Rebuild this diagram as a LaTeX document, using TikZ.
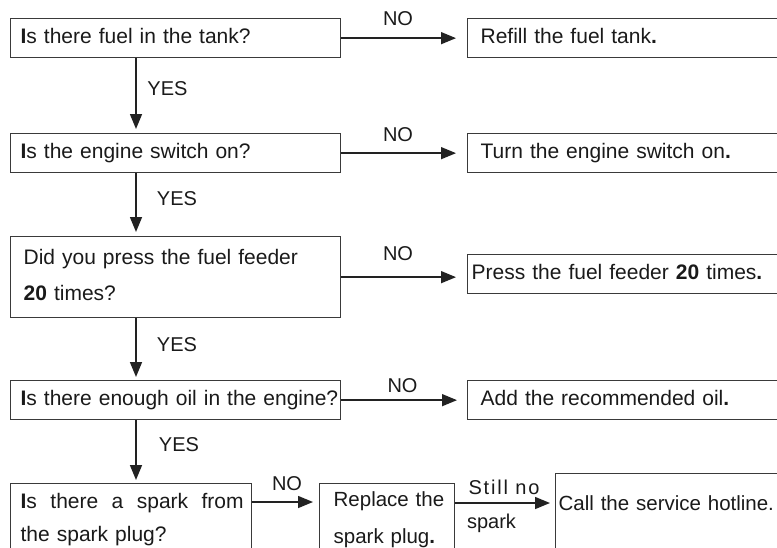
\documentclass[tikz,border=0pt]{standalone}
\usepackage{fontspec}
\setmainfont{Liberation Sans}
\usetikzlibrary{arrows.meta}
\definecolor{boxgray}{HTML}{3A3A3A}
\definecolor{arrowblack}{HTML}{222222}
\definecolor{textblack}{HTML}{1A1A1A}
\begin{document}
\begin{tikzpicture}[x=1pt,y=-1pt,
  box/.style={draw=boxgray, line width=1.3pt, anchor=north west, inner ysep=0pt,
    align=left, font=\fontsize{21}{36}\selectfont, text=textblack,
    text height=15pt, text depth=5pt},
  qbox/.style={box, inner xsep=10pt, text width=310pt, minimum height=39pt},
  abox/.style={box, inner xsep=13pt, text width=283.5pt, minimum height=39pt},
  arr/.style={draw=arrowblack, line width=1.5pt, -{Triangle[length=15pt,width=12pt]}},
  lbl/.style={font=\fontsize{20}{24}\selectfont, text=textblack, inner sep=0pt}]
\useasboundingbox (0,0) rectangle (777,547);
\clip (0,0) rectangle (777,547);

% left column questions
\node[qbox] (q1) at (10,18) {{\bfseries I}s there fuel in the tank?};
\node[qbox] (q2) at (10,133) {{\bfseries I}s the engine switch on?};
\node[box, inner xsep=13pt, text width=304pt, minimum height=81pt, text depth=41pt]
  (q3) at (10,236) {Did you press the fuel feeder\\{\bfseries 20} times?};
\node[qbox] (q4) at (10,380) {\mbox{{\bfseries I}s there enough oil in the engine?}};
\node[box, inner xsep=10pt, text width=221pt, text height=25pt, text depth=70pt,
  font=\fontsize{21}{33}\selectfont]
  (q5) at (10,483) {\hbox to 223pt{{\bfseries I}s\hfill there\hfill a\hfill spark\hfill from}\\the spark plug?};

% right column actions
\node[abox] (a1) at (467,18) {Refill the fuel tank{\bfseries .}};
\node[abox] (a2) at (467,133) {Turn the engine switch on{\bfseries .}};
\node[box, inner xsep=4pt, text width=301.5pt, minimum height=39pt]
  (a3) at (467,254) {Press the fuel feeder {\bfseries 20} times{\bfseries .}};
\node[abox] (a4) at (467,380) {Add the recommended oil{\bfseries .}};

% bottom row
\node[box, inner xsep=14pt, text width=107pt, text height=22.5pt, text depth=70pt,
  font=\fontsize{20.5}{37}\selectfont]
  (q6) at (319,483) {\mbox{Replace the}\\\mbox{spark plug{\bfseries .}}};
\node[box, inner xsep=3pt, text width=232pt, text height=37pt, text depth=70pt,
  font=\fontsize{20.5}{36}\selectfont]
  (q7) at (555,473) {\mbox{Call the service hotline.}};

% YES arrows
\draw[arr, shorten >=4pt] ([xshift=126pt]q1.south west) -- ([xshift=126pt]q2.north west);
\draw[arr, shorten >=4pt] ([xshift=126pt]q2.south west) -- ([xshift=126pt]q3.north west);
\draw[arr, shorten >=3pt] ([xshift=126pt]q3.south west) -- ([xshift=126pt]q4.north west);
\draw[arr, shorten >=3pt] ([xshift=126pt]q4.south west) -- ([xshift=126pt]q5.north west);

% NO arrows
\draw[arr, shorten >=11pt] (q1.east) -- (q1.east -| a1.west);
\draw[arr, shorten >=11pt] (q2.east) -- (q2.east -| a2.west);
\draw[arr, shorten >=11pt] (q3.east) -- (q3.east -| a3.west);
\draw[arr, shorten >=10pt] (q4.east) -- (q4.east -| a4.west);
\coordinate (s5) at ([yshift=-19pt]q5.north east);
\draw[arr, shorten >=6pt] (s5) -- (s5 -| q6.west);
\coordinate (s6) at ([yshift=-20pt]q6.north east);
\draw[arr, shorten >=5pt] (s6) -- (s6 -| q7.west);

% labels
\node[lbl] (yes1) at (167.5,88.5) {YES};
\node[lbl] (yes2) at (177,198.5) {YES};
\node[lbl] (yes3) at (177,345) {YES};
\node[lbl] (yes4) at (179,444.5) {YES};
\node[lbl] (no1) at (398,19) {NO};
\node[lbl] (no2) at (398,134.5) {NO};
\node[lbl] (no3) at (398,254) {NO};
\node[lbl] (no4) at (402.5,386) {NO};
\node[lbl] (no5) at (287,484) {NO};
\node[lbl, font=\fontsize{20}{24}\selectfont\addfontfeature{LetterSpace=9}] (still) at (504,487) {Still no};
\node[lbl] (spark) at (491.5,523.5) {spark};
\end{tikzpicture}
\end{document}
